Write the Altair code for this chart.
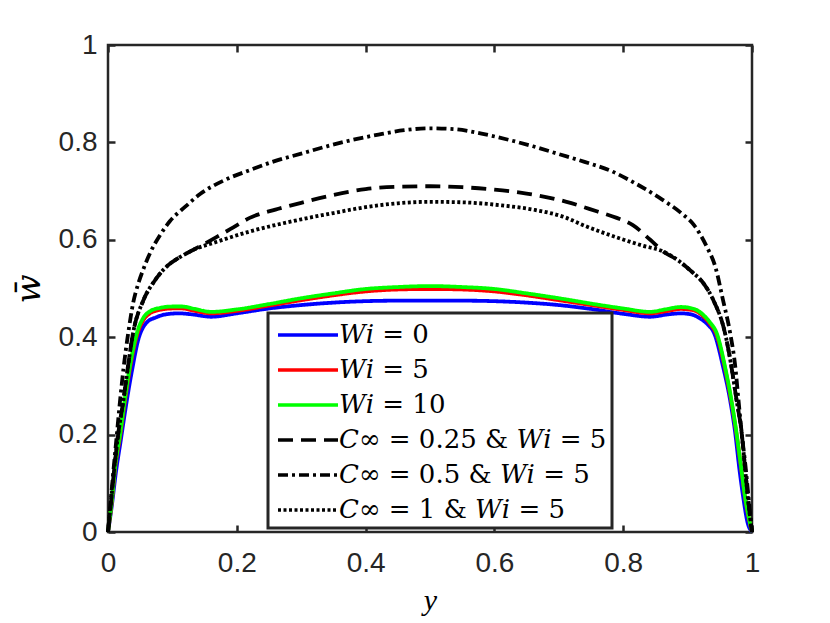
import altair as alt
import pandas as pd

# ---- data ----
names = ["𝑊𝑖 = 0", "𝑊𝑖 = 5", "𝑊𝑖 = 10",
         "𝐶∞ = 0.25 & 𝑊𝑖 = 5", "𝐶∞ = 0.5 & 𝑊𝑖 = 5", "𝐶∞ = 1 & 𝑊𝑖 = 5"]
colors = ["#0000ff", "#ff0000", "#00ff00", "#000000", "#000000", "#000000"]
dashes = [[1, 0], [1, 0], [1, 0], [15, 8], [10, 4, 3, 4], [3, 2.5]]

x_wi0 = [0, 0.006, 0.012, 0.02, 0.028, 0.037, 0.047, 0.06, 0.075, 0.09, 0.11, 0.13, 0.16, 0.2,
         0.25, 0.3, 0.35, 0.4, 0.45, 0.5, 0.55, 0.6, 0.65, 0.7, 0.75, 0.8, 0.842, 0.87, 0.89,
         0.905, 0.92, 0.932, 0.941, 0.955, 0.966, 0.974, 0.98, 0.987, 0.993, 1.0]
w_wi0 = [0, 0.055, 0.12, 0.19, 0.26, 0.33, 0.395, 0.43, 0.441, 0.447, 0.449, 0.447, 0.442, 0.449,
         0.459, 0.466, 0.471, 0.474, 0.475, 0.475, 0.475, 0.474, 0.471, 0.466, 0.458, 0.448, 0.442,
         0.447, 0.449, 0.447, 0.438, 0.425, 0.409, 0.34, 0.271, 0.203, 0.134, 0.066, 0.02, 0]

x_wi5 = [0, 0.006, 0.011, 0.019, 0.026, 0.034, 0.045, 0.055, 0.065, 0.08, 0.1, 0.115, 0.135, 0.16,
         0.2, 0.25, 0.3, 0.35, 0.4, 0.45, 0.5, 0.55, 0.6, 0.65, 0.7, 0.75, 0.8, 0.842, 0.865, 0.89,
         0.91, 0.925, 0.935, 0.945, 0.958, 0.968, 0.976, 0.983, 0.99, 0.995, 1.0]
w_wi5 = [0, 0.063, 0.13, 0.198, 0.266, 0.335, 0.404, 0.435, 0.449, 0.456, 0.459, 0.459, 0.454, 0.449,
         0.454, 0.465, 0.476, 0.486, 0.494, 0.498, 0.499, 0.498, 0.494, 0.486, 0.476, 0.466, 0.456,
         0.449, 0.453, 0.458, 0.455, 0.442, 0.427, 0.405, 0.336, 0.267, 0.2, 0.132, 0.064, 0.028, 0]

x_wi10 = x_wi5
w_wi10 = [0, 0.066, 0.134, 0.203, 0.271, 0.34, 0.409, 0.44, 0.453, 0.46, 0.463, 0.463, 0.458, 0.452,
          0.457, 0.468, 0.48, 0.49, 0.499, 0.503, 0.505, 0.503, 0.499, 0.49, 0.48, 0.469, 0.459,
          0.452, 0.457, 0.462, 0.458, 0.445, 0.43, 0.409, 0.34, 0.271, 0.203, 0.134, 0.066, 0.03, 0]

x_c025 = [0, 0.005, 0.01, 0.016, 0.024, 0.031, 0.039, 0.055, 0.072, 0.091, 0.11, 0.132, 0.169, 0.194,
          0.22, 0.26, 0.3, 0.35, 0.4, 0.45, 0.5, 0.55, 0.6, 0.65, 0.712, 0.76, 0.79, 0.815, 0.842,
          0.862, 0.885, 0.906, 0.925, 0.94, 0.958, 0.968, 0.976, 0.984, 0.989, 0.994, 1.0]
w_c025 = [0, 0.067, 0.134, 0.203, 0.271, 0.34, 0.409, 0.476, 0.515, 0.545, 0.563, 0.579, 0.606, 0.625,
          0.645, 0.662, 0.676, 0.692, 0.704, 0.709, 0.71, 0.708, 0.703, 0.695, 0.678, 0.658, 0.645,
          0.63, 0.6, 0.576, 0.558, 0.535, 0.51, 0.476, 0.409, 0.34, 0.271, 0.203, 0.134, 0.066, 0]

x_c05 = [0, 0.004, 0.008, 0.013, 0.018, 0.024, 0.031, 0.039, 0.047, 0.055, 0.065, 0.081, 0.096, 0.12,
         0.143, 0.18, 0.22, 0.26, 0.3, 0.34, 0.376, 0.42, 0.46, 0.5, 0.54, 0.58, 0.62, 0.66, 0.7,
         0.74, 0.78, 0.82, 0.86, 0.89, 0.91, 0.93, 0.943, 0.955, 0.966, 0.974, 0.979, 0.984, 0.99,
         0.995, 1.0]
w_c05 = [0, 0.06, 0.12, 0.19, 0.26, 0.335, 0.405, 0.47, 0.51, 0.54, 0.572, 0.61, 0.638, 0.668,
         0.694, 0.722, 0.743, 0.762, 0.777, 0.792, 0.804, 0.816, 0.825, 0.829, 0.827, 0.818, 0.806,
         0.792, 0.776, 0.76, 0.742, 0.715, 0.683, 0.655, 0.63, 0.585, 0.545, 0.476, 0.409, 0.34,
         0.271, 0.203, 0.134, 0.066, 0]

x_c1 = [0, 0.005, 0.01, 0.016, 0.024, 0.031, 0.039, 0.055, 0.072, 0.091, 0.11, 0.132, 0.169, 0.22,
        0.272, 0.3, 0.35, 0.4, 0.45, 0.5, 0.55, 0.609, 0.66, 0.712, 0.738, 0.79, 0.83, 0.862, 0.885,
        0.906, 0.925, 0.94, 0.958, 0.968, 0.976, 0.984, 0.989, 0.994, 1.0]
w_c1 = [0, 0.067, 0.134, 0.203, 0.271, 0.34, 0.409, 0.476, 0.515, 0.545, 0.563, 0.579, 0.596, 0.617,
        0.634, 0.642, 0.655, 0.667, 0.675, 0.678, 0.677, 0.671, 0.662, 0.645, 0.63, 0.605, 0.588,
        0.576, 0.558, 0.535, 0.51, 0.476, 0.409, 0.34, 0.271, 0.203, 0.134, 0.066, 0]

tick_vals = [0, 0.2, 0.4, 0.6, 0.8, 1]

series = [(names[0], x_wi0, w_wi0), (names[1], x_wi5, w_wi5), (names[2], x_wi10, w_wi10),
          (names[3], x_c025, w_c025), (names[4], x_c05, w_c05), (names[5], x_c1, w_c1)]
rows = []
for k, (nm, xs_, ws_) in enumerate(series):
    for xv, wv in zip(xs_, ws_):
        rows.append({"series": nm, "x": xv, "w": wv, "k": k})
df = pd.DataFrame(rows)

AX = "#262626"
xsc = alt.Scale(domain=[0, 1], nice=False, zero=False)
ysc = alt.Scale(domain=[0, 1], nice=False, zero=False)

common_axis = dict(values=tick_vals, format=".1~f", offset=-7, tickSize=7, tickWidth=2.5,
                   tickColor=AX, domain=False, grid=False, labelFont="Liberation Sans",
                   labelFontSize=28, labelColor=AX, labelFlush=False)

legend = alt.Legend(title=None, orient="none", legendX=160, legendY=268, symbolType="M-2,0H2",
                    symbolSize=900, symbolStrokeWidth=3.5, symbolOffset=18, labelFont="DejaVu Serif",
                    labelFontSize=26, labelColor="#000000", labelOffset=14, rowPadding=5,
                    padding=5, strokeColor=AX, fillColor="#ffffff", labelLimit=400)

lines = alt.Chart(df).mark_line(strokeWidth=3.8, interpolate="monotone", strokeJoin="round").encode(
    x=alt.X("x:Q", scale=xsc, axis=alt.Axis(orient="bottom", title="y", labelPadding=17,
                                            titleFont="Liberation Serif", titleFontStyle="italic",
                                            titleFontWeight="normal", titleFontSize=30,
                                            titleColor="#000000", titlePadding=8, **common_axis)),
    y=alt.Y("w:Q", scale=ysc, axis=alt.Axis(orient="left", title="𝑤\u0304", labelPadding=11,
                                            titleFont="DejaVu Serif", titleFontWeight="normal",
                                            titleFontSize=34, titleColor="#000000",
                                            titlePadding=12, **common_axis)),
    color=alt.Color("series:N", scale=alt.Scale(domain=names, range=colors), legend=legend),
    strokeDash=alt.StrokeDash("series:N", scale=alt.Scale(domain=names, range=dashes), legend=legend),
    order=alt.Order("k:Q"),
)

frame_axis = dict(common_axis)
frame_axis["labels"] = False
frame = alt.Chart(df).mark_point(opacity=0).encode(
    x=alt.X("x:Q", scale=xsc, title=None, axis=alt.Axis(orient="top", **frame_axis)),
    y=alt.Y("w:Q", scale=ysc, title=None, axis=alt.Axis(orient="right", **frame_axis)),
)

chart = alt.layer(lines, frame).resolve_axis(x="independent", y="independent").properties(
    width=644, height=487,
    padding={"left": 100, "top": 37, "right": 60, "bottom": 86},
    autosize=alt.AutoSizeParams(type="none"),
).configure_view(stroke=AX, strokeWidth=2.5).configure_legend(strokeWidth=3)

chart.save("out.html", embed_options={"renderer": "svg", "actions": False})
